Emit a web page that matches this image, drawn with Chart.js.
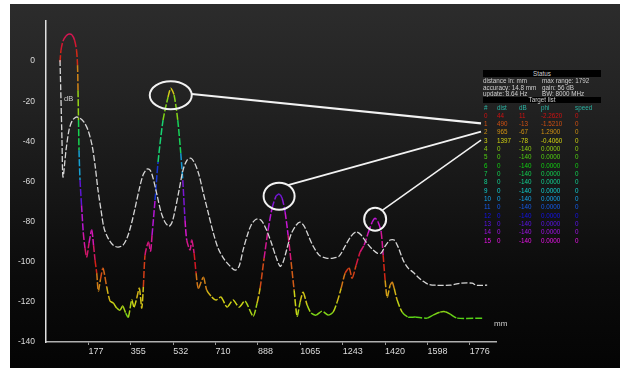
<!DOCTYPE html>
<html>
<head>
<meta charset="utf-8">
<script src="https://cdn.jsdelivr.net/npm/chart.js@4.4.1/dist/chart.umd.min.js"></script>
<style>
  html,body{margin:0;padding:0;background:#fff;}
  #wrap{position:relative;width:620px;height:378px;overflow:hidden;font-family:"Liberation Sans",Arial,sans-serif;}
  #bg{position:absolute;left:10px;top:4px;width:610px;height:364px;
      background:linear-gradient(to bottom,#2c2c2c 0%,#232323 25%,#171717 50%,#0b0b0b 75%,#040404 100%);}
  #c{position:absolute;left:0;top:0;}
  .t{position:absolute;white-space:nowrap;font-size:6.3px;line-height:7px;color:#cfcfcf;}
  .bar{position:absolute;left:483px;width:118px;background:#000;color:#cfcfcf;font-size:6.3px;text-align:center;}
</style>
</head>
<body>
<div id="wrap">
  <div id="bg"></div>
  <canvas id="c" width="620" height="378"></canvas>
  <div id="table"></div>
  <div class="t" style="left:64px;top:95px;font-size:7.5px;line-height:8px;color:#d0d0d0;">dB</div>
  <div class="t" style="left:494px;top:319px;font-size:8px;line-height:9px;color:#d0d0d0;">mm</div>
</div>
<script>
// ---------------- data ----------------
const rainbowDist = [58.7,62.9,71.3,83.9,96.4,109.0,119.5,127.9,132.1,134.2,136.3,138.4,142.6,148.9,156.4,163.5,170.7,180.3,191.6,199.2,205.5,212.6,219.3,228.5,239.0,254.5,268.4,282.2,296.4,310.3,321.6,334.2,345.1,359.3,369.0,380.3,391.2,401.3,408.0,415.1,428.9,438.2,444.5,457.0,469.6,490.6,511.5,522.9,536.7,552.2,564.8,573.2,582.8,589.9,603.8,610.9,620.6,629.0,638.6,659.6,673.8,694.8,712.8,733.8,758.9,784.1,809.2,834.4,867.9,884.7,897.3,914.1,930.8,947.6,964.4,977.0,989.5,1002.1,1014.7,1027.3,1039.9,1052.4,1065.0,1077.6,1094.4,1111.1,1132.1,1157.3,1182.4,1203.4,1220.2,1237.0,1253.7,1270.5,1283.1,1299.8,1316.6,1333.4,1350.1,1366.9,1379.5,1392.1,1404.7,1413.0,1421.4,1429.8,1442.4,1450.8,1459.2,1471.7,1492.7,1517.9,1547.2,1597.5,1622.7,1652.0,1673.0,1694.0,1723.3,1828.1];
const rainbowDb = [-0.5,5.5,10.0,12.5,13.5,13.0,10.5,5.5,-2.0,-14.5,-29.4,-44.4,-59.3,-71.8,-85.7,-93.2,-97.7,-90.7,-84.2,-91.7,-99.2,-105.7,-114.6,-108.7,-103.2,-112.6,-119.6,-120.6,-123.1,-124.1,-122.1,-125.6,-127.6,-119.1,-122.6,-118.1,-113.2,-123.1,-112.6,-96.7,-90.2,-94.7,-86.7,-69.3,-50.3,-29.4,-17.9,-13.5,-16.9,-29.4,-45.9,-59.3,-79.3,-89.2,-94.2,-89.2,-95.7,-105.7,-113.2,-107.7,-114.2,-117.6,-119.1,-117.6,-122.6,-119.1,-122.6,-119.6,-127.1,-120.6,-113.2,-98.2,-84.2,-73.3,-67.3,-66.3,-68.3,-75.3,-86.7,-100.2,-114.2,-127.1,-120.1,-115.2,-121.6,-125.6,-126.6,-124.6,-126.6,-125.1,-120.1,-113.2,-105.7,-103.2,-108.2,-101.7,-95.2,-91.7,-85.7,-80.3,-78.3,-80.3,-85.2,-96.7,-109.2,-117.6,-111.7,-110.2,-113.2,-119.1,-125.1,-127.6,-127.6,-128.1,-126.6,-125.1,-124.9,-126.1,-128.1,-128.1];

const whiteDist = [58.7,62.9,67.0,71.3,83.9,96.4,109.0,125.8,142.6,159.3,176.1,192.9,205.5,218.0,230.6,243.2,260.0,280.9,301.9,322.9,339.6,356.4,373.2,389.9,406.7,423.5,436.1,448.7,465.4,482.2,499.0,515.7,528.3,540.9,557.7,574.4,591.2,608.0,624.8,641.5,658.3,679.3,700.2,721.2,746.4,771.5,792.5,809.3,826.0,842.8,859.6,880.5,901.5,922.5,943.4,964.4,981.2,993.7,1010.5,1027.3,1048.3,1065.0,1081.8,1098.6,1119.5,1144.7,1174.0,1203.4,1228.5,1253.7,1278.9,1299.8,1320.8,1341.7,1366.9,1387.9,1404.7,1421.4,1442.4,1459.2,1475.9,1496.9,1517.9,1538.8,1559.8,1580.7,1601.7,1631.0,1693.9,1714.8,1735.8,1786.1,1802.9,1849.0];
const whiteDb = [0.5,-19.4,-39.4,-57.8,-44.4,-34.4,-29.9,-27.9,-28.4,-30.4,-34.4,-41.9,-51.8,-64.3,-74.3,-83.2,-88.2,-91.7,-92.7,-91.7,-88.2,-81.8,-73.3,-64.3,-56.8,-53.8,-54.3,-58.3,-66.8,-75.3,-80.3,-82.2,-80.3,-74.3,-64.3,-54.3,-49.3,-48.4,-51.3,-56.8,-65.3,-75.3,-85.2,-93.2,-98.7,-102.2,-104.2,-102.2,-94.2,-87.2,-81.8,-78.8,-79.3,-83.7,-90.2,-97.7,-102.2,-100.2,-93.2,-86.2,-81.8,-80.3,-82.2,-86.7,-92.2,-96.7,-98.2,-98.2,-97.2,-92.2,-87.2,-85.2,-86.7,-90.2,-93.7,-95.7,-95.7,-92.2,-89.2,-89.2,-92.7,-99.2,-103.2,-105.2,-107.7,-109.7,-111.2,-111.7,-111.7,-111.2,-110.7,-110.7,-111.7,-111.7];

const xTickValues = [177.6,355.2,532.8,710.4,888,1065.6,1243.2,1420.8,1598.4,1776];
const xTickLabels = ['177','355','532','710','888','1065','1243','1420','1598','1776'];
const yTickValues = [0,-20,-40,-60,-80,-100,-120,-140];

const statusLeft  = ['distance in: mm','accuracy: 14.8 mm','update: 8.64 Hz'];
const statusRight = ['max range: 1792','gain: 56 dB','BW: 8000 MHz'];
const targetHeader = ['#','dist','dB','phi','speed'];
const targetIdx   = [0,1,2,3,4,5,6,7,8,9,10,11,12,13,14,15];
const targetDist  = [44,490,965,1397,0,0,0,0,0,0,0,0,0,0,0,0];
const targetDb    = [11,-13,-67,-78,-140,-140,-140,-140,-140,-140,-140,-140,-140,-140,-140,-140];
const targetPhi   = ['-2.2620','-1.5210','1.2900','-0.4060','0.0000','0.0000','0.0000','0.0000','0.0000','0.0000','0.0000','0.0000','0.0000','0.0000','0.0000','0.0000'];
const targetSpeed = [0,0,0,0,0,0,0,0,0,0,0,0,0,0,0,0];
const highlighted = [1,2,3];

// ---------------- table (HTML text) ----------------
const ROW0_Y = 115, ROW_H = 8.35, TABLE_X = 481;
const colX = [484, 497, 519, 541, 575];
(function buildTable(){
  const t = document.getElementById('table');
  let h = '';
  h += '<div class="bar" style="top:69.5px;height:7.5px;line-height:7.5px;">Status</div>';
  const sy = [80.7, 87, 93.3];
  for (let i=0;i<3;i++){
    h += `<div class="t" style="left:483px;top:${sy[i]-3.5}px;">${statusLeft[i]}</div>`;
    h += `<div class="t" style="left:542px;top:${sy[i]-3.5}px;">${statusRight[i]}</div>`;
  }
  h += '<div class="bar" style="top:96.5px;height:6px;line-height:6px;">Target list</div>';
  for (let c=0;c<5;c++){
    h += `<div class="t" style="left:${colX[c]}px;top:${107.7-3.5}px;color:#2bb3a3;">${targetHeader[c]}</div>`;
  }
  for (let i=0;i<targetIdx.length;i++){
    const col = `hsl(${i*20},85%,${i>=10?50:44}%)`;
    const y = ROW0_Y + i*ROW_H - 3.5;
    const vals = [targetIdx[i], targetDist[i], targetDb[i], targetPhi[i], targetSpeed[i]];
    for (let c=0;c<5;c++){
      h += `<div class="t" style="left:${colX[c]}px;top:${y}px;color:${col};">${vals[c]}</div>`;
    }
  }
  t.innerHTML = h;
})();

// ---------------- chart ----------------
// colour ramp of the signal trace (level -> hue)
const rampDb  = [20, 13, 0, -15, -30, -45, -58, -66, -78, -88, -98, -108, -116, -122, -128, -140];
const rampHue = [330, 340, 370, 415, 470, 530, 580, 625, 650, 670, 705, 745, 770, 785, 820, 840];
function hueColor(db){
  let h = rampHue[rampHue.length-1];
  for (let i=0;i<rampDb.length-1;i++){
    if (db <= rampDb[i] && db >= rampDb[i+1]){
      const f = (rampDb[i]-db)/(rampDb[i]-rampDb[i+1]);
      h = rampHue[i] + f*(rampHue[i+1]-rampHue[i]);
      break;
    }
  }
  h = h % 360;
  return `hsl(${h.toFixed(0)},80%,46%)`;
}

const calloutPlugin = {
  id: 'callouts',
  afterDatasetsDraw(chart){
    const ctx = chart.ctx;
    const xs = chart.scales.x, ys = chart.scales.y;
    const shapes = [
      {rx:21, ry:14, dy:7, ang:-5},
      {rx:15.5, ry:13.5, dy:2, ang:-55},
      {rx:11, ry:11.5, dy:1, ang:-50}
    ];
    ctx.save();
    ctx.strokeStyle = '#f2f2f2';
    highlighted.forEach((row, k) => {
      let best = -1, bestDb = -1e9;
      for (let i=0;i<rainbowDist.length;i++){
        if (Math.abs(rainbowDist[i]-targetDist[row]) < 60 && rainbowDb[i] > bestDb){ bestDb = rainbowDb[i]; best = i; }
      }
      const s = shapes[k];
      const cx = xs.getPixelForValue(rainbowDist[best]);
      const cy = ys.getPixelForValue(rainbowDb[best]) + s.dy;
      ctx.lineWidth = 2;
      ctx.beginPath();
      ctx.ellipse(cx, cy, s.rx, s.ry, 0, 0, Math.PI*2);
      ctx.stroke();
      const a = s.ang * Math.PI/180;
      const sx = cx + s.rx*Math.cos(a), sy = cy + s.ry*Math.sin(a);
      ctx.lineWidth = k===0 ? 2.2 : (k===1 ? 1.8 : 1.5);
      ctx.beginPath();
      ctx.moveTo(sx, sy);
      ctx.lineTo(TABLE_X, ROW0_Y + row*ROW_H);
      ctx.stroke();
    });
    ctx.restore();
  }
};

new Chart(document.getElementById('c'), {
  type: 'line',
  data: {
    datasets: [
      {
        label: 'reference',
        data: whiteDist.map((d,i)=>({x:d, y:whiteDb[i]})),
        borderColor: '#d6d6d6',
        borderWidth: 1.3,
        borderDash: [6,2],
        pointRadius: 0,
        tension: 0.3,
        fill: false
      },
      {
        label: 'signal',
        data: rainbowDist.map((d,i)=>({x:d, y:rainbowDb[i]})),
        borderColor: '#ccc',
        borderWidth: 1.5,
        borderDash: [7,2],
        pointRadius: 0,
        tension: 0.25,
        fill: false,
        segment: {
          borderColor: c => hueColor((c.p0.parsed.y + c.p1.parsed.y)/2)
        }
      }
    ]
  },
  options: {
    responsive: false,
    devicePixelRatio: 1,
    animation: false,
    layout: { padding: { left: 0, right: 124, top: 21, bottom: 0 } },
    plugins: { legend: { display: false }, tooltip: { enabled: false } },
    scales: {
      x: {
        type: 'linear',
        min: 0, max: 1886,
        afterBuildTicks: s => { s.ticks = xTickValues.map(v => ({value: v})); },
        afterFit: s => { s.height = 36; },
        ticks: {
          align: 'start',
          autoSkip: false,
          maxRotation: 0,
          padding: 1,
          color: '#dcdcdc',
          font: { size: 9, family: '"Liberation Sans Narrow","Liberation Sans",Arial,sans-serif' },
          callback: (v, i) => xTickLabels[i]
        },
        grid: { display: true, drawOnChartArea: false, drawTicks: true, tickLength: 3, color: '#9a9a9a' },
        border: { display: true, color: '#b0b0b0', width: 1.5 }
      },
      y: {
        type: 'linear',
        min: -140, max: 20,
        afterBuildTicks: s => { s.ticks = yTickValues.map(v => ({value: v})); },
        afterFit: s => { s.width = 46; },
        ticks: {
          padding: 3,
          color: '#dcdcdc',
          font: { size: 8.5, family: '"Liberation Sans Narrow","Liberation Sans",Arial,sans-serif' }
        },
        grid: { display: false },
        border: { display: true, color: '#e0e0e0', width: 1.5, dash: [9,4] }
      }
    }
  },
  plugins: [calloutPlugin]
});
</script>
</body>
</html>
